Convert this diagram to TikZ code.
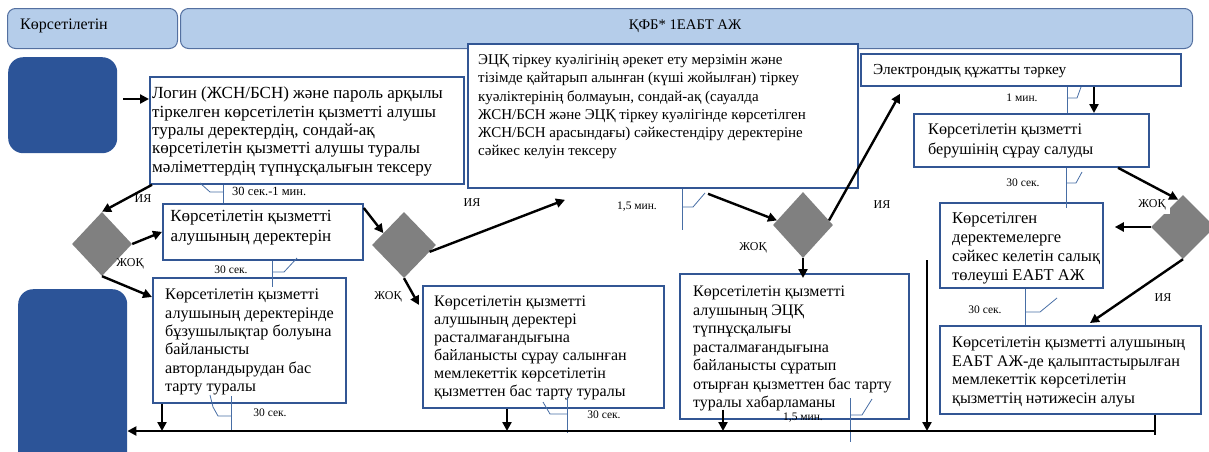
\documentclass[tikz,border=0pt]{standalone}
\usepackage{fontspec}
\setmainfont{Liberation Serif}
\usetikzlibrary{shapes.geometric,arrows.meta,calc}
\definecolor{hdrfill}{RGB}{181,205,234}
\definecolor{hdrline}{RGB}{84,112,160}
\definecolor{blk}{RGB}{44,84,152}
\definecolor{boxline}{RGB}{50,86,148}
\definecolor{diagray}{RGB}{128,128,128}
\definecolor{callline}{RGB}{72,110,165}

\begin{document}
\begin{tikzpicture}[x=1pt,y=-1pt,
  hdr/.style={draw=hdrline, fill=hdrfill, line width=1pt, rounded corners=8pt, anchor=north west, inner sep=0pt},
  blkbox/.style={fill=blk, rounded corners=15pt, anchor=north west, inner sep=0pt},
  frame/.style={draw=boxline, line width=1.8pt, fill=white, anchor=north west, inner sep=0pt},
  txt/.style={anchor=north west, align=left, inner sep=0pt},
  decision/.style={diamond, fill=diagray, inner sep=0pt},
  flow/.style={line width=2.4pt, -{Triangle[length=9pt,width=9pt]}},
  calloutline/.style={draw=callline, line width=0.8pt},
  note/.style={font=\fontsize{11.5}{13}\selectfont, inner sep=0pt},
  answer/.style={font=\fontsize{12}{14}\selectfont, inner sep=1pt},
]
\useasboundingbox (0,0) rectangle (1209,451);
\clip (0,0) rectangle (1209,451);

% swimlane headers
\node[hdr, minimum width=170pt, minimum height=40pt] (hdrL) at (7,8) {};
\node[hdr, minimum width=1012pt, minimum height=40pt] (hdrR) at (180,8) {};
\node[anchor=west, inner sep=0pt, font=\fontsize{16}{18}\selectfont] (hdrLt) at (20,26) {Көрсетілетін};
\node[inner sep=0pt, font=\fontsize{14.7}{16}\selectfont] (hdrRt) at (685,26) {ҚФБ* 1ЕАБТ АЖ};

% start and end blocks
\node[blkbox, minimum width=109pt, minimum height=96pt] (startBlk) at (8,57) {};
\node[blkbox, minimum width=109pt, minimum height=180pt] (endBlk) at (18,289) {};

% process frames
\node[frame, minimum width=314pt, minimum height=107pt] (b1) at (149,76) {};
\node[frame, minimum width=200pt, minimum height=56pt] (b2) at (162,203) {};
\node[frame, minimum width=193pt, minimum height=125pt] (b3) at (152,277) {};
\node[frame, minimum width=241pt, minimum height=122pt] (b4) at (422,285) {};
\node[frame, minimum width=390pt, minimum height=144pt] (bE) at (467,43) {};
\node[frame, minimum width=229pt, minimum height=145pt] (b5) at (679,273) {};
\node[frame, minimum width=320pt, minimum height=32pt] (bX) at (860,53) {};
\node[frame, minimum width=235pt, minimum height=53pt] (b6) at (913,113) {};
\node[frame, minimum width=163pt, minimum height=85pt] (b7) at (939,202) {};
\node[frame, minimum width=261pt, minimum height=88pt] (b8) at (939,325) {};

% frame texts
\node[txt, font=\fontsize{17}{18.35}\selectfont] (t1) at (152,86.7) {Логин (ЖСН/БСН) және пароль арқылы\\тіркелген көрсетілетін қызметті алушы\\туралы деректердің, сондай-ақ\\көрсетілетін қызметті алушы туралы\\мәліметтердің түпнұсқалығын тексеру};
\node[txt, anchor=center, align=center, font=\fontsize{17}{20}\selectfont] (t2) at (251,228) {Көрсетілетін қызметті\\алушының деректерін};
\node[txt, font=\fontsize{16.2}{18.3}\selectfont] (t3) at (165,289) {Көрсетілетін қызметті\\алушының деректерінде\\бұзушылықтар болуына\\байланысты\\авторландырудан бас\\тарту туралы};
\node[txt, font=\fontsize{16}{18}\selectfont] (t4) at (434,296) {Көрсетілетін қызметті\\алушының деректері\\расталмағандығына\\байланысты сұрау салынған\\мемлекеттік көрсетілетін\\қызметтен бас тарту туралы};
\node[txt, font=\fontsize{15}{18.2}\selectfont] (tE) at (478,54.5) {ЭЦҚ тіркеу куәлігінің әрекет ету мерзімін және\\тізімде қайтарып алынған (күші жойылған) тіркеу\\куәліктерінің болмауын, сондай-ақ (сауалда\\ЖСН/БСН және ЭЦҚ тіркеу куәлігінде көрсетілген\\ЖСН/БСН арасындағы) сәйкестендіру деректеріне\\сәйкес келуін тексеру};
\node[txt, font=\fontsize{16}{18.5}\selectfont] (t5) at (693,286) {Көрсетілетін қызметті\\алушының ЭЦҚ\\түпнұсқалығы\\расталмағандығына\\байланысты сұратып\\отырған қызметтен бас тарту\\туралы хабарламаны};
\node[txt, font=\fontsize{15.3}{18}\selectfont] (tX) at (873,64.5) {Электрондық құжатты тәркеу};
\node[txt, font=\fontsize{16.2}{20}\selectfont] (t6) at (928,124) {Көрсетілетін қызметті\\берушінің сұрау салуды};
\node[txt, font=\fontsize{16.5}{19}\selectfont] (t7) at (952,212) {Көрсетілген\\деректемелерге\\сәйкес келетін салық\\төлеуші ЕАБТ АЖ};
\node[txt, font=\fontsize{16.2}{18.4}\selectfont] (t8) at (952,337) {Көрсетілетін қызметті алушының\\ЕАБТ АЖ-де қалыптастырылған\\мемлекеттік көрсетілетін\\қызметтің нәтижесін алуы};

% decisions
\node[decision, minimum width=60pt, minimum height=64pt] (d1) at (102,244) {};
\node[decision, minimum width=64pt, minimum height=66pt] (d2) at (404,245) {};
\node[decision, minimum width=60pt, minimum height=66pt] (d3) at (803,225) {};
\node[decision, minimum width=64pt, minimum height=64pt] (d4) at (1183,227) {};

% answer labels
\node[answer] (a1) at (143,199) {ИЯ};
\node[answer] (a2) at (130,264) {ЖОҚ};
\node[answer] (a3) at (472,203) {ИЯ};
\node[answer] (a4) at (388,297) {ЖОҚ};
\node[answer] (a5) at (753,248) {ЖОҚ};
\node[answer] (a6) at (882,205) {ИЯ};
\node[answer, fill=white, inner sep=4pt] (a7) at (1152,205) {ЖОҚ};
\node[answer] (a8) at (1163,298) {ИЯ};

% timing callouts
\draw[calloutline] ($(b1.south west)+(74,0)$) -- ($(b2.north west)+(61,0)$);
\draw[calloutline] (200,183) -- (210,192) -- (223,192);
\node[note, anchor=west, font=\fontsize{12.5}{14}\selectfont] (n1) at (232,191) {30 сек.-1 мин.};

\draw[calloutline] ($(b2.south west)+(110,0)$) -- ($(b3.north west)+(120,10)$);
\draw[calloutline] (297,258) -- (284,272) -- (272,272);
\node[note] (n2) at (231,270) {30 сек.};

\draw[calloutline] (231,396) -- (231,431);
\draw[calloutline] (210,395) -- (213,407) -- (218,416) -- (231,416);
\node[note] (n3) at (270,413) {30 сек.};

\draw[calloutline] (567,397) -- (567,433);
\draw[calloutline] (543,402) -- (550,414) -- (567,414);
\node[note] (n4) at (604,415) {30 сек.};

\draw[calloutline] ($(bE.south west)+(215,0)$) -- (682,230);
\draw[calloutline] (682,207) -- (693,207) -- (705,193);
\node[note] (n5) at (637,207) {1,5 мин.};

\draw[calloutline] (850,398) -- (850,442);
\draw[calloutline] (872,399) -- (862,415) -- (850,415);
\node[note] (n6) at (803,418) {1,5 мин.};

\draw[calloutline] ($(bX.south west)+(207,0)$) -- ($(b6.north west)+(154,0)$);
\draw[calloutline] (1067,98) -- (1077,98) -- (1081,87);
\node[note] (n7) at (1022,98) {1 мин.};

\draw[calloutline] ($(b6.south west)+(153,0)$) -- ($(b7.north west)+(127,6)$);
\draw[calloutline] (1066,183) -- (1076,183) -- (1082,172);
\node[note] (n8) at (1023,183) {30 сек.};

\draw[calloutline] ($(b7.south west)+(86,0)$) -- (b8.north west -| 1025,0);
\draw[calloutline] (1025,312) -- (1040,312) -- (1057,298);
\node[note] (n9) at (985,310) {30 сек.};

% flow arrows
\coordinate (inArr) at (123,99);
\coordinate (dropTop) at (927,260);
\coordinate (busR) at (1155,431);

\draw[flow] (inArr) -- (inArr -| b1.west);
\draw[flow] ($(b1.south west)+(3,0)$) -- (d1.north);
\draw[flow] (d1.east) -- (b2.west);
\draw[flow] (d1.south) -- ($(b3.north west)+(0,20)$);
\draw[flow] ($(b2.north east)+(0,5)$) -- (d2.150);
\draw[flow] (d2.-15) -- ($(bE.south west)+(98,11)$);
\draw[flow] (d2.south) -- ($(b4.north west)+(-3,20)$);
\draw[flow] ($(bE.south west)+(241,5)$) -- (d3.170);
\draw[flow] (d3.10) -- ($(bX.south west)+(40,7)$);
\draw[flow] (d3.south) -- ($(d3.south |- b5.north)+(0,5)$);
\draw[flow] ($(bX.south west)+(234,0)$) -- ($(b6.north west)+(181,0)$);
\draw[flow] ($(b6.south west)+(205,0)$) -- (d4.100);
\draw[flow] (d4.west) -- ($(b7.east |- d4.west)+(11,0)$);
\draw[flow] (d4.south) -- ($(b8.north west)+(151,-2)$);

% common return line
\draw[flow] ($(b3.south west)+(10,0)$) coordinate (s3) -- (s3 |- busR);
\draw[flow] ($(b4.south west)+(85,0)$) coordinate (s4) -- (s4 |- busR);
\draw[flow] ($(b5.south west)+(44,-10)$) coordinate (s5) -- (s5 |- busR);
\draw[flow] (dropTop) -- (dropTop |- busR);
\draw[line width=2.4pt] ($(b8.south west)+(216,0)$) coordinate (s8) -- ($(s8 |- busR)+(0,4)$);
\draw[flow] (busR) -- (endBlk.east |- busR);
\end{tikzpicture}
\end{document}
